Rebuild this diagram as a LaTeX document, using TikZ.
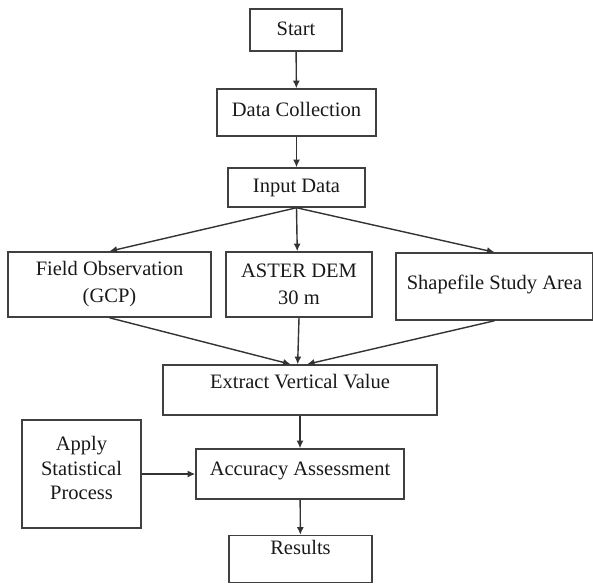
\documentclass[tikz,border=0pt]{standalone}
\usepackage{fontspec}
\setmainfont{Liberation Serif}
\usetikzlibrary{arrows.meta}

\begin{document}
\begin{tikzpicture}[x=0.03cm,y=-0.03cm]
    \tikzstyle{every node}=[font=\fontsize{17.5}{23}\selectfont,text=black!90]

    \tikzstyle{stepbox}=[draw=black!75,line width=1.3pt,inner sep=0pt,align=center]
    \tikzstyle{flow}=[draw=black!80,line width=1.2pt,-{Latex[length=6.5pt,width=6pt]}]

    \useasboundingbox (0,0) rectangle (593,583);

    %% Main column
    \node [stepbox,minimum width=2.76cm,minimum height=1.26cm,text depth=0.1cm] at (296,30) (start) {Start};
    \node [stepbox,minimum width=4.77cm,minimum height=1.41cm,text depth=0.2cm] at (296.5,112.5) (collect) {Data Collection};
    \node [stepbox,minimum width=4.11cm,minimum height=1.17cm] at (296.5,187.5) (input) {Input Data};

    %% Input sources
    \node [stepbox,minimum width=6.09cm,minimum height=1.95cm] at (109.5,284.5) (field) {Field Observation\\(GCP)};
    \node [stepbox,minimum width=4.38cm,minimum height=1.95cm] at (299,284.5) (aster) {ASTER DEM\\30 m};
    \node [stepbox,minimum width=5.91cm,minimum height=2.01cm,text depth=0.27cm] at (494.5,286.5) (shape) {Shapefile Study Area};

    %% Processing
    \node [stepbox,minimum width=8.22cm,minimum height=1.5cm,text depth=0.54cm] at (300,390) (extract) {Extract Vertical Value};
    \node [stepbox,minimum width=6.24cm,minimum height=1.5cm,text depth=0.3cm] at (300,474) (accuracy) {Accuracy Assessment};
    \node [stepbox,minimum width=3.57cm,minimum height=3.24cm,text depth=0.36cm,
        font=\fontsize{17.5}{21}\selectfont] at (81.5,474) (stats) {Apply\\Statistical\\Process};
    \node [stepbox,minimum width=4.29cm,minimum height=1.41cm,text depth=0.72cm] at (300.5,559) (results) {Results};

    %% Connectors
    \draw [flow] (start) to (collect);
    \draw [flow] (collect) to (input);
    \draw [flow] (input.south) to (field.north);
    \draw [flow] (input.south) to ([xshift=-1.5]aster.north);
    \draw [flow] (input.south) to (shape.north);
    \draw [flow] (field.south) to ([xshift=-8]extract.north);
    \draw [flow] (aster.south) to ([xshift=-2]extract.north);
    \draw [flow] (shape.south) to ([xshift=6]extract.north);
    \draw [flow] (extract) to (accuracy);
    \draw [flow] (stats) to (accuracy);
    \draw [flow] (accuracy) to (results);

\end{tikzpicture}
\end{document}
